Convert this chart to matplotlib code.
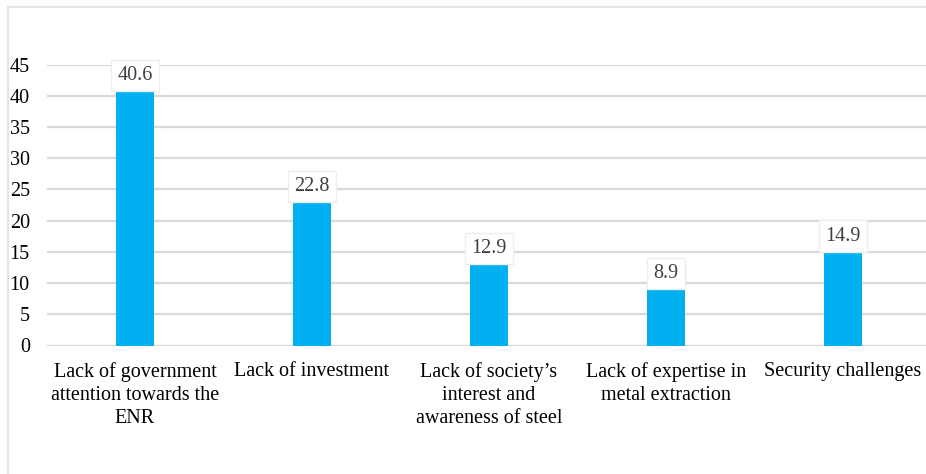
import matplotlib.pyplot as plt
from matplotlib.patches import Rectangle

categories = ["Lack of government\nattention towards the\nENR",
              "Lack of investment",
              "Lack of society\u2019s\ninterest and\nawareness of steel",
              "Lack of expertise in\nmetal extraction",
              "Security challenges"]
values = [40.6, 22.8, 12.9, 8.9, 14.9]
yticks = [0, 5, 10, 15, 20, 25, 30, 35, 40, 45]

plt.rcParams['font.family'] = ['Liberation Serif', 'DejaVu Serif']

W, H = 926, 474
fig = plt.figure(figsize=(W / 100, H / 100), dpi=100)

# outer chart border (right and bottom edges run off the canvas)
fig.patches.append(Rectangle((8 / W, -0.1), 1.2, 1.1 - 7 / H, transform=fig.transFigure,
                             fill=False, edgecolor='#e4e4e4', linewidth=1.5))

left, right = 46.5, 931.5
top, bottom = 64.5, 345.5
ax = fig.add_axes([left / W, 1 - bottom / H, (right - left) / W, (bottom - top) / H])

x = range(len(values))
ax.bar(x, values, width=0.215, color='#00b0f0', zorder=3)

ax.set_xlim(-0.5, 4.5)
ax.set_ylim(0, 45)
ax.set_yticks(yticks)
ax.yaxis.grid(True, color='#d9d9d9', linewidth=1.6, zorder=0)
for s in ax.spines.values():
    s.set_visible(False)
ax.tick_params(axis='both', length=0, labelsize=14.5, colors='black')
ax.tick_params(axis='y', pad=12)
ax.tick_params(axis='x', pad=12)
ax.set_xticks(list(x))
ax.set_xticklabels(categories, linespacing=1.3)

for i, v in enumerate(values):
    ax.annotate(f"{v}", (i, v), xytext=(0, 5), textcoords='offset points',
                ha='center', va='bottom', fontsize=14.5, color='#404040',
                bbox=dict(boxstyle='square,pad=0.3', facecolor='white',
                          edgecolor='#eeeeee', linewidth=1), zorder=4)

fig.savefig("out.png", dpi=100)
